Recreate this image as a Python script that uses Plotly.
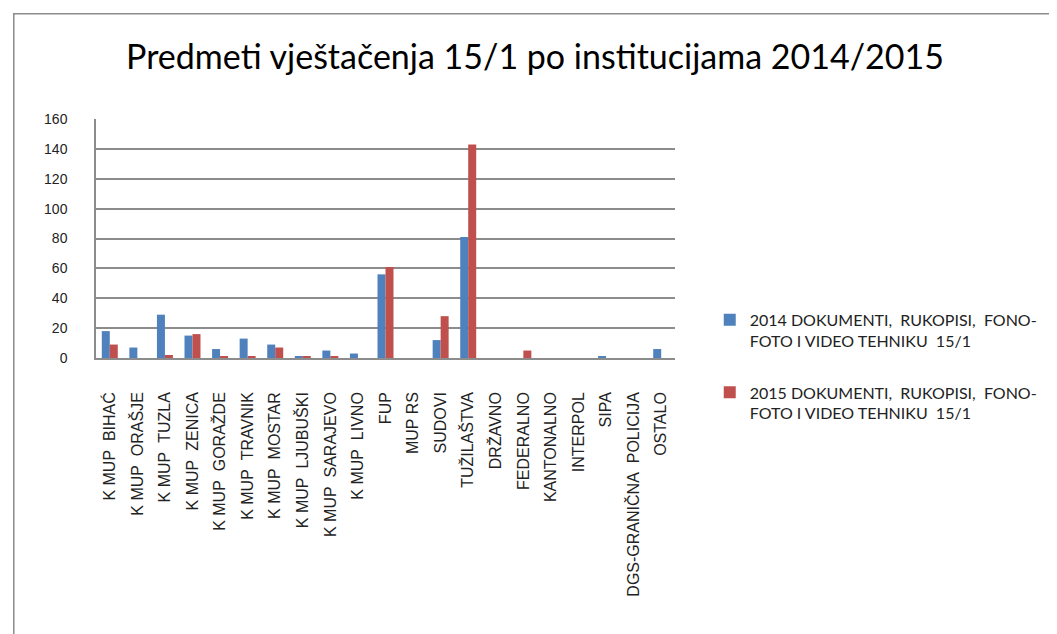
import plotly.graph_objects as go

# institucije
kategorije = ["K MUP  BIHAĆ", "K MUP  ORAŠJE", "K MUP  TUZLA", "K MUP  ZENICA", "K MUP  GORAŽDE",
              "K MUP  TRAVNIK", "K MUP  MOSTAR", "K MUP  LJUBUŠKI", "K MUP  SARAJEVO", "K MUP  LIVNO",
              "FUP", "MUP RS", "SUDOVI", "TUŽILAŠTVA", "DRŽAVNO", "FEDERALNO", "KANTONALNO",
              "INTERPOL", "SIPA", "DGS-GRANIČNA  POLICIJA", "OSTALO"]

vrijednosti_2014 = [18, 7, 29, 15, 6, 13, 9, 1, 5, 3, 56, 0, 12, 81, 0, 0, 0, 0, 1, 0, 6]
vrijednosti_2015 = [9, 0, 2, 16, 1, 1, 7, 1, 1, 0, 61, 0, 28, 143, 0, 5, 0, 0, 0, 0, 0]

naziv_2014 = "2014 DOKUMENTI,  RUKOPISI,  FONO-<br>FOTO I VIDEO TEHNIKU  15/1"
naziv_2015 = "2015 DOKUMENTI,  RUKOPISI,  FONO-<br>FOTO I VIDEO TEHNIKU  15/1"

labele = [k.replace("  ", "\u00a0\u00a0") for k in kategorije]

fig = go.Figure()
fig.add_trace(go.Bar(x=labele, y=vrijednosti_2014, name=naziv_2014, legendgroup="g2014",
                     marker=dict(color="#4F81BD", line=dict(width=0))))
fig.add_trace(go.Bar(x=labele, y=vrijednosti_2015, name=naziv_2015, legendgroup="g2015",
                     marker=dict(color="#C0504D", line=dict(width=0))))

fig.update_layout(
    width=1057, height=634,
    margin=dict(l=88, r=390, t=111, b=284),
    paper_bgcolor="white", plot_bgcolor="white",
    barmode="group", bargap=0.42, bargroupgap=0.0,
    title=dict(text="Predmeti vještačenja 15/1 po institucijama 2014/2015",
               x=0.4986, xanchor="center", y=0.922, yanchor="middle",
               font=dict(family="Lato, sans-serif", size=34, color="black")),
    legend=dict(x=1.06, y=0.231, xanchor="left", yanchor="top", valign="top",
                font=dict(family="Lato, sans-serif", size=16, color="#222"),
                tracegroupgap=28, itemwidth=30),
    showlegend=True,
)

fig.update_yaxes(range=[0, 160], dtick=20, showgrid=True, gridcolor="#8c8c8c", gridwidth=1.5,
                 showline=True, linecolor="#8c8c8c", linewidth=1.5, zeroline=False,
                 ticks="", ticklabelstandoff=24,
                 tickfont=dict(family="Liberation Sans, Arial", size=14, color="#222"))
fig.update_xaxes(showline=True, linecolor="#8c8c8c", linewidth=1.5, tickangle=-90,
                 ticks="", ticklabelstandoff=26,
                 tickfont=dict(family="Liberation Sans, Arial", size=16, color="#222"))

# okvir grafikona
fig.add_shape(type="rect", xref="paper", yref="paper", x0=-0.142, x1=1.7, y0=-1.3, y1=1.44,
              line=dict(color="#8c8c8c", width=1.5), fillcolor="rgba(0,0,0,0)", layer="below")

fig.write_html("out.html")
